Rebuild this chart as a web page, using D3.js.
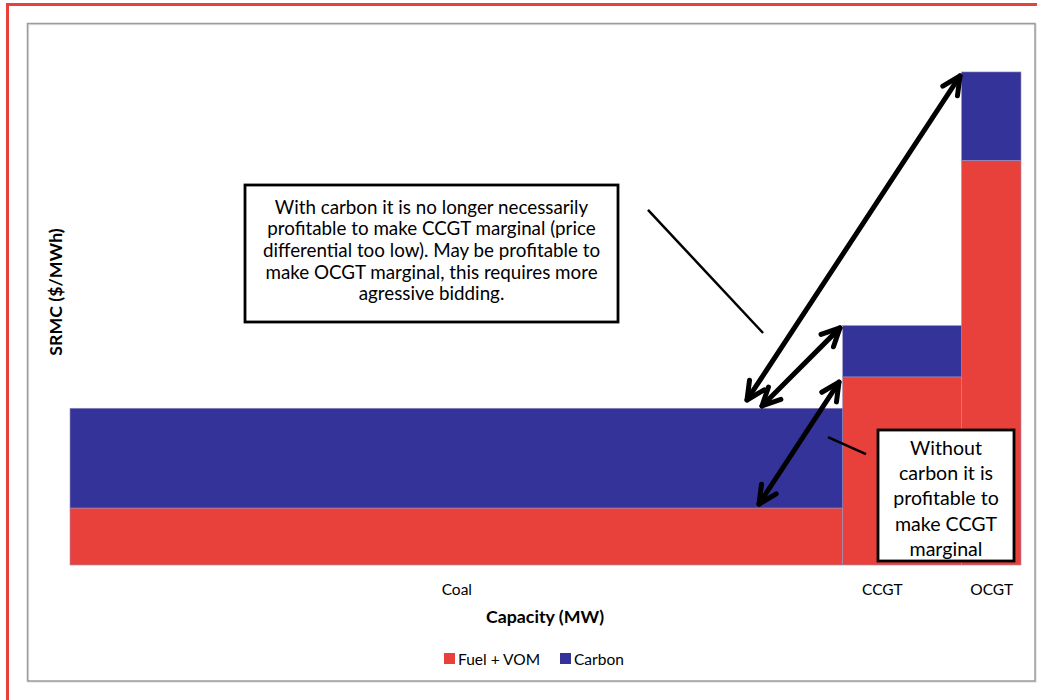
<!DOCTYPE html>
<html>
<head>
<meta charset="utf-8">
<script src="https://cdn.jsdelivr.net/npm/d3@7"></script>
<style>
  body { margin: 0; background: #fff; }
  text { font-family: Lato, "Liberation Sans", sans-serif; fill: #000; }
</style>
</head>
<body>
<svg id="chart" width="1037" height="700"></svg>
<script>
// Merit order: plant types, capacity block widths (MW) and cost components ($/MWh)
const plants = ["Coal", "CCGT", "OCGT"];
const capacityMW = [6500, 1000, 500];
const fuelVom = [20, 66, 142];
const carbonCost = [35, 18, 31];
const seriesNames = ["Fuel + VOM", "Carbon"];
const seriesColors = ["#E8403A", "#333399"];
// category label positions along the capacity axis (MW)
const tickLabels = ["Coal", "CCGT", "OCGT"];
const tickPositions = [3250, 6830, 7750];

// annotation arrows, endpoints in (MW, $/MWh)
const arrows = [
  [[5695, 57.9], [7487, 171.6]],
  [[5821, 55.8], [6477, 83.2]],
  [[5796, 21.4], [6469, 64.2]]
];
const leaders = [
  [[4862, 124.6], [5830, 81.4]],
  [[6376, 44.9], [6696, 38.9]]
];
const noteCarbon = [
  "With carbon it is no longer necessarily",
  "profitable to make CCGT marginal (price",
  "differential too low). May be profitable to",
  "make OCGT marginal, this requires more",
  "agressive bidding."
];
const noteNoCarbon = ["Without", "carbon it is", "profitable to", "make CCGT", "marginal"];

const svg = d3.select("#chart");

// outer frame and chart area frame
svg.append("rect").attr("x", 7.5).attr("y", 4.5).attr("width", 1040).attr("height", 710)
  .attr("fill", "none").attr("stroke", "#E8403A").attr("stroke-width", 3);
svg.append("rect").attr("x", 28.5).attr("y", 24.5).attr("width", 1007.5).attr("height", 657.5)
  .attr("fill", "none").attr("stroke", "#e2e2e2").attr("stroke-width", 1.5);
svg.append("rect").attr("x", 27.5).attr("y", 23.5).attr("width", 1007.5).attr("height", 657.5)
  .attr("fill", "none").attr("stroke", "#9b9b9b").attr("stroke-width", 1.5);

const x = d3.scaleLinear().domain([0, d3.sum(capacityMW)]).range([70, 1021]);
const y = d3.scaleLinear().domain([0, 180]).range([565, 52]);

// rows with cumulative capacity start/end
let cum = 0;
const rows = plants.map((p, i) => {
  const r = { plant: p, x0: cum, x1: cum + capacityMW[i], fuel: fuelVom[i], carbon: carbonCost[i] };
  cum += capacityMW[i];
  return r;
});
const stacked = d3.stack().keys(["fuel", "carbon"])(rows);

svg.append("g").selectAll("g").data(stacked).join("g")
  .attr("fill", (d, i) => seriesColors[i])
  .selectAll("rect").data(d => d).join("rect")
  .attr("x", d => x(d.data.x0))
  .attr("width", d => x(d.data.x1) - x(d.data.x0))
  .attr("y", d => y(d[1]))
  .attr("height", d => y(d[0]) - y(d[1]))
  .attr("stroke", "#9a8fc0").attr("stroke-width", 0.6);

// category labels
const xAxis = d3.axisBottom(x).tickValues(tickPositions)
  .tickFormat((d, i) => tickLabels[i]).tickSize(0).tickPadding(0);
const gx = svg.append("g").attr("transform", "translate(0,584)").call(xAxis);
gx.select(".domain").remove();
gx.selectAll("text").attr("font-size", 15.5).attr("font-family", "Lato, 'Liberation Sans', sans-serif").attr("fill", "#000");

// axis titles
svg.append("text").attr("x", 545).attr("y", 623).attr("text-anchor", "middle")
  .attr("font-size", 17.8).attr("font-weight", "bold").text("Capacity (MW)");
svg.append("text").attr("transform", "translate(62,292) rotate(-90)").attr("text-anchor", "middle")
  .attr("font-size", 17.8).attr("font-weight", "bold").text("SRMC ($/MWh)");

// legend
const legend = svg.append("g");
const legendX = [444, 560];
seriesNames.forEach((name, i) => {
  legend.append("rect").attr("x", legendX[i]).attr("y", 653).attr("width", 11).attr("height", 11)
    .attr("fill", seriesColors[i]);
  legend.append("text").attr("x", legendX[i] + 14).attr("y", 665).attr("font-size", 15.5).text(name);
});

// arrows
function arrowHead(g, tip, from, len, ang) {
  const dx = from[0] - tip[0], dy = from[1] - tip[1];
  const d = Math.hypot(dx, dy), ux = dx / d, uy = dy / d;
  const rot = a => [tip[0] + len * (ux * Math.cos(a) - uy * Math.sin(a)),
                    tip[1] + len * (ux * Math.sin(a) + uy * Math.cos(a))];
  const a = rot(ang), b = rot(-ang);
  g.append("path").attr("d", `M${a[0]},${a[1]}L${tip[0]},${tip[1]}L${b[0]},${b[1]}`);
}
const ag = svg.append("g").attr("fill", "none").attr("stroke", "#000").attr("stroke-width", 5)
  .attr("stroke-linecap", "round").attr("stroke-linejoin", "round");
arrows.forEach(([p, q]) => {
  const a = [x(p[0]), y(p[1])], b = [x(q[0]), y(q[1])];
  ag.append("line").attr("x1", a[0]).attr("y1", a[1]).attr("x2", b[0]).attr("y2", b[1]);
  arrowHead(ag, a, b, 20, 26 * Math.PI / 180);
  arrowHead(ag, b, a, 20, 26 * Math.PI / 180);
});
svg.append("g").attr("stroke", "#000").attr("stroke-width", 2.5)
  .selectAll("line").data(leaders).join("line")
  .attr("x1", d => x(d[0][0])).attr("y1", d => y(d[0][1]))
  .attr("x2", d => x(d[1][0])).attr("y2", d => y(d[1][1]));

// note boxes
function note(lines, bx, by, bw, bh, first, step, size) {
  const g = svg.append("g");
  g.append("rect").attr("x", bx).attr("y", by).attr("width", bw).attr("height", bh)
    .attr("fill", "#fff").attr("stroke", "#000").attr("stroke-width", 2.8);
  g.selectAll("text").data(lines).join("text")
    .attr("x", bx + bw / 2).attr("y", (d, i) => first + i * step)
    .attr("text-anchor", "middle").attr("font-size", size).text(d => d);
}
note(noteCarbon, 245, 185, 373, 137, 213.5, 21.7, 18.8);
note(noteNoCarbon, 878, 430, 136, 131, 455, 25.2, 19.6);
</script>
</body>
</html>
